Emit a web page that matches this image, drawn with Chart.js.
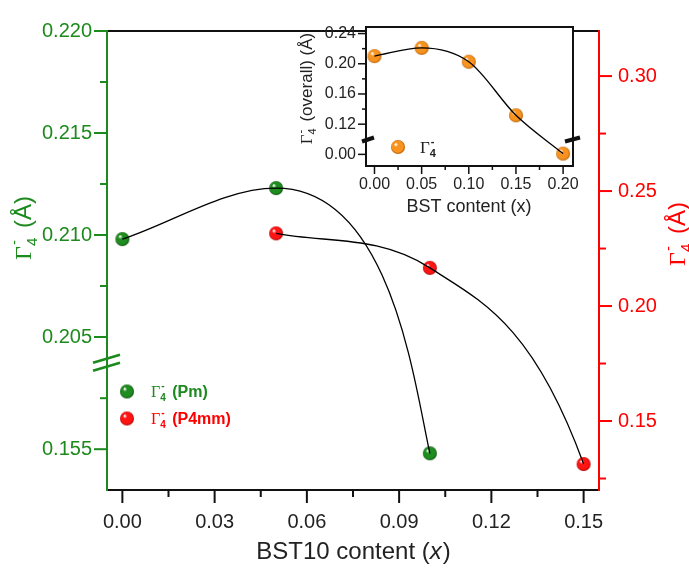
<!DOCTYPE html>
<html>
<head>
<meta charset="utf-8">
<script src="https://cdn.jsdelivr.net/npm/chart.js@4.4.0/dist/chart.umd.min.js"></script>
<style>
  html, body { margin: 0; padding: 0; background: #fff; }
  #wrap { position: relative; width: 689px; height: 569px; }
  #grafico { position: absolute; left: 0; top: 0; }
  #inset { position: absolute; left: 280px; top: 0; }
</style>
</head>
<body>
<div id="wrap">
  <canvas id="grafico" width="689" height="569"></canvas>
  <canvas id="inset" width="310" height="230"></canvas>
</div>
<script>
// dados do gráfico principal
const conteudoPm = [0, 0.05, 0.10];
const gammaPm = [0.2098, 0.2123, 0.1548];
const conteudoP4mm = [0.05, 0.10, 0.15];
const gammaP4mm = [0.2316, 0.2166, 0.1313];

// dados do inset
const conteudoBST = [0, 0.05, 0.10, 0.15, 0.20];
const gammaTotal = [0.2102, 0.2211, 0.2027, 0.1318, 0.001];

// ticks
const ticksX = [0, 0.03, 0.06, 0.09, 0.12, 0.15];
const minorX = [0.015, 0.045, 0.075, 0.105, 0.135];
const ticksEsq = [0.155, 0.205, 0.210, 0.215, 0.220];
const minorEsq = [0.1575, 0.2075, 0.2125, 0.2175];
const ticksDir = [0.15, 0.20, 0.25, 0.30];
const minorDir = [0.125, 0.175, 0.225, 0.275];
const ticksInsetX = [0, 0.05, 0.10, 0.15, 0.20];
const minorInsetX = [0.025, 0.075, 0.125, 0.175];
const ticksInsetY = [0.00, 0.12, 0.16, 0.20, 0.24];
const minorInsetY = [0.14, 0.18, 0.22];

const corVerde = '#1c8a1c';
const corVermelha = '#ff0000';
const corTexto = '#222';

// eixos quebrados: os valores abaixo da quebra são deslocados
const quebraEsq = 0.0445;
const quebraInset = 0.08;
const virtEsq = v => v < 0.2 ? v + quebraEsq : v;
const virtInset = v => v < 0.1 ? v + quebraInset : v;

// bolinhas com brilho
function esfera(cor, escuro, r) {
    const c = document.createElement('canvas');
    c.width = c.height = r * 2 + 2;
    const g = c.getContext('2d');
    const m = r + 1;
    const grad = g.createRadialGradient(m - r * 0.35, m - r * 0.4, 0.5, m, m, r);
    grad.addColorStop(0, '#ffffff');
    grad.addColorStop(0.25, cor);
    grad.addColorStop(0.8, cor);
    grad.addColorStop(1, escuro);
    g.fillStyle = grad;
    g.beginPath();
    g.arc(m, m, r, 0, Math.PI * 2);
    g.fill();
    return c;
}
const esferaVerde = esfera('#1e8c1e', '#0b4d0b', 7);
const esferaVermelha = esfera('#ff1414', '#a30000', 7);
const esferaLaranja = esfera('#f7931e', '#b35a00', 7);

function linha(ctx, x1, y1, x2, y2) {
    ctx.beginPath();
    ctx.moveTo(x1, y1);
    ctx.lineTo(x2, y2);
    ctx.stroke();
}

// Γ com "-" sobrescrito e "4" subscrito, seguido do resto do texto
function textoGamma(ctx, x, y, o, desenhar) {
    let w = 0;
    ctx.textAlign = 'left';
    ctx.textBaseline = 'alphabetic';
    ctx.fillStyle = o.cor;
    ctx.font = `${o.tam}px "Liberation Serif"`;
    if (desenhar) ctx.fillText('Γ', x, y);
    w += ctx.measureText('Γ').width;
    const p = Math.round(o.tam * 0.62);
    ctx.font = `${o.negrito ? 'bold ' : ''}${p}px "Liberation Sans"`;
    if (desenhar) {
        ctx.fillText('-', x + w + 1, y - o.tam * 0.48);
        ctx.fillText('4', x + w, y + o.tam * 0.25);
    }
    w += ctx.measureText('4').width + o.tam * 0.12;
    if (o.resto) {
        ctx.font = o.fonte;
        if (desenhar) ctx.fillText(o.resto, x + w, y);
        w += ctx.measureText(o.resto).width;
    }
    return w;
}

function tituloVertical(ctx, xBase, yCentro, o) {
    ctx.save();
    ctx.translate(xBase, yCentro);
    ctx.rotate(-Math.PI / 2);
    const w = textoGamma(ctx, 0, 0, o, false);
    textoGamma(ctx, -w / 2, 0, o, true);
    ctx.restore();
}

// ajusta o último trecho da curva (chegada mais íngreme, como no ajuste original)
const ajusteCurva = {
    id: 'ajusteCurva',
    beforeDatasetDraw(chart, args) {
        const o = chart.data.datasets[args.index].ajusteFim;
        if (!o) return;
        args.meta.dataset.updateControlPoints(chart.chartArea, 'x');
        const pts = args.meta.data;
        const a = pts[pts.length - 2], b = pts[pts.length - 1];
        const dx = b.x - a.x, dy = b.y - a.y;
        if (o.saida) {
            a.cp2x = a.x + dx * o.saida;
            a.cp2y = a.y;
        }
        b.cp1x = b.x - dx * o.chegada;
        b.cp1y = b.y - dy * o.chegada * o.fator;
    }
};

const eixosPrincipal = {
    id: 'eixosPrincipal',
    afterDraw(chart) {
        const { ctx, chartArea: a } = chart;
        const sx = chart.scales.x, sy = chart.scales.y, sy2 = chart.scales.y2;
        ctx.save();
        ctx.lineWidth = 2;

        // moldura
        ctx.strokeStyle = '#111';
        linha(ctx, a.left, a.top, a.right, a.top);
        linha(ctx, a.left, a.bottom, a.right + 1, a.bottom);
        ctx.strokeStyle = corVerde;
        linha(ctx, a.left, a.top - 1, a.left, a.bottom + 1);
        ctx.strokeStyle = corVermelha;
        linha(ctx, a.right, a.top - 1, a.right, a.bottom + 1);

        // ticks de x
        ctx.strokeStyle = '#111';
        ticksX.forEach(v => { const x = sx.getPixelForValue(v); linha(ctx, x, a.bottom, x, a.bottom + 13); });
        minorX.forEach(v => { const x = sx.getPixelForValue(v); linha(ctx, x, a.bottom, x, a.bottom + 7); });

        // ticks da esquerda
        ctx.strokeStyle = corVerde;
        ticksEsq.forEach(v => { const y = sy.getPixelForValue(virtEsq(v)); linha(ctx, a.left - 13, y, a.left, y); });
        minorEsq.forEach(v => { const y = sy.getPixelForValue(virtEsq(v)); linha(ctx, a.left - 7, y, a.left, y); });

        // quebra do eixo esquerdo
        const yq = sy.getPixelForValue(0.20374);
        ctx.lineWidth = 2.5;
        linha(ctx, a.left - 14, yq, a.left + 13, yq - 8);
        linha(ctx, a.left - 14, yq + 8, a.left + 13, yq);

        // ticks da direita
        ctx.lineWidth = 2;
        ctx.strokeStyle = corVermelha;
        ticksDir.forEach(v => { const y = sy2.getPixelForValue(v); linha(ctx, a.right, y, a.right + 13, y); });
        minorDir.forEach(v => { const y = sy2.getPixelForValue(v); linha(ctx, a.right, y, a.right + 7, y); });

        // títulos dos eixos
        tituloVertical(ctx, 31, 228, { tam: 24, cor: corVerde, resto: ' (Å)', fonte: '24px "Liberation Sans"' });
        tituloVertical(ctx, 685, 234, { tam: 24, cor: corVermelha, resto: ' (Å)', fonte: '24px "Liberation Sans"' });

        ctx.fillStyle = corTexto;
        ctx.textBaseline = 'middle';
        ctx.textAlign = 'left';
        const f1 = '24px "Liberation Sans"', f2 = 'italic 24px "Liberation Sans"';
        ctx.font = f1;
        const p1 = 'BST10 content (', p3 = ')';
        const w1 = ctx.measureText(p1).width, w3 = ctx.measureText(p3).width;
        ctx.font = f2;
        const w2 = ctx.measureText('x').width;
        let xt = (a.left + a.right) / 2 - (w1 + w2 + w3) / 2;
        ctx.font = f1; ctx.fillText(p1, xt, 552);
        ctx.font = f2; ctx.fillText('x', xt + w1, 552);
        ctx.font = f1; ctx.fillText(p3, xt + w1 + w2 + 1, 552);

        // legenda
        ctx.drawImage(esferaVerde, 127 - esferaVerde.width / 2, 391.5 - esferaVerde.height / 2);
        ctx.drawImage(esferaVermelha, 127 - esferaVermelha.width / 2, 418.5 - esferaVermelha.height / 2);
        textoGamma(ctx, 151, 397, { tam: 16, cor: corVerde, negrito: true, resto: ' (Pm)', fonte: 'bold 16px "Liberation Sans"' }, true);
        textoGamma(ctx, 151, 424, { tam: 16, cor: corVermelha, negrito: true, resto: ' (P4mm)', fonte: 'bold 16px "Liberation Sans"' }, true);
        ctx.restore();
    }
};

const fonteTick = { family: '"Liberation Sans", Arial, sans-serif', size: 20 };

new Chart(document.getElementById('grafico').getContext('2d'), {
    type: 'scatter',
    data: {
        datasets: [
            {
                label: 'Pm curva',
                data: conteudoPm.map((x, i) => ({ x, y: virtEsq(gammaPm[i]) })),
                yAxisID: 'y', showLine: true, borderColor: '#000', borderWidth: 1.3,
                pointRadius: 0, cubicInterpolationMode: 'monotone', order: 0,
                ajusteFim: { saida: 0.75, chegada: 0.1, fator: 2.56 }
            },
            {
                label: 'P4mm curva',
                data: conteudoP4mm.map((x, i) => ({ x, y: gammaP4mm[i] })),
                yAxisID: 'y2', showLine: true, borderColor: '#000', borderWidth: 1.3,
                pointRadius: 0, cubicInterpolationMode: 'monotone', order: 0,
                ajusteFim: { saida: 0, chegada: 1 / 3, fator: 2.15 }
            },
            {
                label: 'Pm',
                data: conteudoPm.map((x, i) => ({ x, y: virtEsq(gammaPm[i]) })),
                yAxisID: 'y', pointStyle: esferaVerde, pointRadius: 7, order: 1
            },
            {
                label: 'P4mm',
                data: conteudoP4mm.map((x, i) => ({ x, y: gammaP4mm[i] })),
                yAxisID: 'y2', pointStyle: esferaVermelha, pointRadius: 7, order: 1
            }
        ]
    },
    options: {
        responsive: false,
        animation: false,
        devicePixelRatio: 1,
        layout: { padding: { top: 21, left: 0, right: 0, bottom: 0 } },
        plugins: { legend: { display: false }, tooltip: { enabled: false } },
        scales: {
            x: {
                type: 'linear', position: 'bottom', min: -0.005, max: 0.155,
                afterBuildTicks: s => { s.ticks = ticksX.map(v => ({ value: v })); },
                afterFit: s => { s.height = 79; },
                ticks: { color: corTexto, font: fonteTick, padding: 20, autoSkip: false, maxRotation: 0,
                         callback: v => v.toFixed(2) },
                grid: { display: false, drawTicks: false },
                border: { display: false }
            },
            y: {
                type: 'linear', position: 'left', min: 0.1975, max: 0.220,
                afterBuildTicks: s => { s.ticks = ticksEsq.map(v => ({ value: virtEsq(v) })); },
                afterFit: s => { s.width = 107; },
                ticks: { color: corVerde, font: fonteTick, padding: 15, autoSkip: false,
                         callback: v => (v < 0.2045 ? v - quebraEsq : v).toFixed(3) },
                grid: { display: false, drawTicks: false },
                border: { display: false }
            },
            y2: {
                type: 'linear', position: 'right', min: 0.12, max: 0.3196,
                afterBuildTicks: s => { s.ticks = ticksDir.map(v => ({ value: v })); },
                afterFit: s => { s.width = 90; },
                ticks: { color: corVermelha, font: fonteTick, padding: 19, autoSkip: false,
                         callback: v => v.toFixed(2) },
                grid: { display: false, drawTicks: false },
                border: { display: false }
            }
        }
    },
    plugins: [ajusteCurva, eixosPrincipal]
});

// inset
const eixosInset = {
    id: 'eixosInset',
    beforeDatasetsDraw(chart) {
        const { ctx, chartArea: a } = chart;
        ctx.save();
        ctx.fillStyle = '#fff';
        ctx.fillRect(a.left, a.top, a.right - a.left, a.bottom - a.top);
        ctx.restore();
    },
    afterDraw(chart) {
        const { ctx, chartArea: a } = chart;
        const sx = chart.scales.x, sy = chart.scales.y;
        ctx.save();
        ctx.strokeStyle = '#111';
        ctx.lineWidth = 2;
        ctx.strokeRect(a.left, a.top, a.right - a.left, a.bottom - a.top);

        ctx.lineWidth = 1.5;
        ticksInsetX.forEach(v => { const x = sx.getPixelForValue(v); linha(ctx, x, a.bottom, x, a.bottom + 8); });
        minorInsetX.forEach(v => { const x = sx.getPixelForValue(v); linha(ctx, x, a.bottom, x, a.bottom + 4); });
        ticksInsetY.forEach(v => { const y = sy.getPixelForValue(virtInset(v)); linha(ctx, a.left - 8, y, a.left, y); });
        minorInsetY.forEach(v => { const y = sy.getPixelForValue(virtInset(v)); linha(ctx, a.left - 4, y, a.left, y); });

        // quebras
        const yq = sy.getPixelForValue(0.101);
        ctx.lineWidth = 4;
        linha(ctx, a.left - 4, yq + 3, a.left + 8, yq - 1);
        linha(ctx, a.right - 8, yq + 3, a.right + 7, yq - 1);

        // títulos
        tituloVertical(ctx, 32, 88.5, { tam: 17, cor: corTexto, resto: ' (overall) (Å)', fonte: '17px "Liberation Sans"' });
        ctx.fillStyle = corTexto;
        ctx.font = '18px "Liberation Sans"';
        ctx.textAlign = 'center';
        ctx.textBaseline = 'middle';
        ctx.fillText('BST content (x)', (a.left + a.right) / 2 - 0.5, 207);

        // legenda
        ctx.drawImage(esferaLaranja, 118 - esferaLaranja.width / 2, 147 - esferaLaranja.height / 2);
        textoGamma(ctx, 140, 153, { tam: 17, cor: corTexto, negrito: true, resto: '' }, true);
        ctx.restore();
    }
};

const fonteInset = { family: '"Liberation Sans", Arial, sans-serif', size: 16 };

new Chart(document.getElementById('inset').getContext('2d'), {
    type: 'scatter',
    data: {
        datasets: [
            {
                label: 'curva',
                data: conteudoBST.map((x, i) => ({ x, y: virtInset(gammaTotal[i]) })),
                showLine: true, borderColor: '#000', borderWidth: 1.3,
                pointRadius: 0, cubicInterpolationMode: 'monotone', order: 0
            },
            {
                label: 'Γ4-',
                data: conteudoBST.map((x, i) => ({ x, y: virtInset(gammaTotal[i]) })),
                pointStyle: esferaLaranja, pointRadius: 7, order: 1
            }
        ]
    },
    options: {
        responsive: false,
        animation: false,
        devicePixelRatio: 1,
        layout: { padding: { top: 27, right: 17, left: 0, bottom: 0 } },
        plugins: { legend: { display: false }, tooltip: { enabled: false } },
        scales: {
            x: {
                type: 'linear', position: 'bottom', min: -0.009, max: 0.2105,
                afterBuildTicks: s => { s.ticks = ticksInsetX.map(v => ({ value: v })); },
                afterFit: s => { s.height = 64; },
                ticks: { color: corTexto, font: fonteInset, padding: 9, autoSkip: false, maxRotation: 0,
                         callback: v => v.toFixed(2) },
                grid: { display: false, drawTicks: false },
                border: { display: false }
            },
            y: {
                type: 'linear', position: 'left', min: 0.0646, max: 0.2487,
                afterBuildTicks: s => { s.ticks = ticksInsetY.map(v => ({ value: virtInset(v) })); },
                afterFit: s => { s.width = 86; },
                ticks: { color: corTexto, font: fonteInset, padding: 10, autoSkip: false,
                         callback: v => Math.abs(v < 0.1 ? v - quebraInset : v).toFixed(2) },
                grid: { display: false, drawTicks: false },
                border: { display: false }
            }
        }
    },
    plugins: [eixosInset]
});
</script>
</body>
</html>
